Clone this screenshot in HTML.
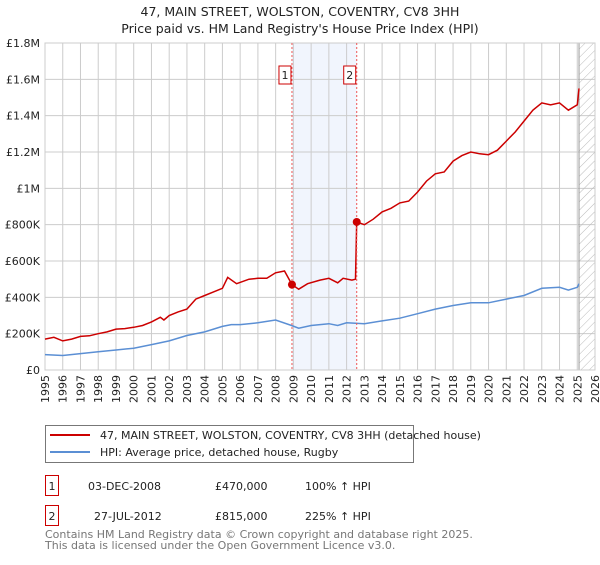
<!DOCTYPE html>
<html><head><meta charset="utf-8"><style>
body{margin:0;background:#fff;font-family:"Liberation Sans","DejaVu Sans",sans-serif;}
svg text{font-family:"DejaVu Sans","Liberation Sans",sans-serif;}
</style></head><body>
<svg width="600" height="560" viewBox="0 0 600 560" xmlns="http://www.w3.org/2000/svg">
<defs><pattern id="hatch" width="6" height="6" patternUnits="userSpaceOnUse" patternTransform="rotate(45)"><line x1="0" y1="0" x2="0" y2="6" stroke="#bbb" stroke-width="1"/></pattern></defs>
<text x="300" y="16" text-anchor="middle" font-size="12.5" fill="#222">47, MAIN STREET, WOLSTON, COVENTRY, CV8 3HH</text>
<text x="300" y="33" text-anchor="middle" font-size="12.5" fill="#222">Price paid vs. HM Land Registry's House Price Index (HPI)</text>
<g id="plot"></g>
<g>
<rect x="45.5" y="425.5" width="368" height="37" fill="#fff" stroke="#777"/>
<line x1="50" y1="435" x2="90" y2="435" stroke="#cc0000" stroke-width="2"/>
<text x="100" y="439" font-size="11" fill="#222">47, MAIN STREET, WOLSTON, COVENTRY, CV8 3HH (detached house)</text>
<line x1="50" y1="452" x2="90" y2="452" stroke="#5b8fd4" stroke-width="2"/>
<text x="100" y="456" font-size="11" fill="#222">HPI: Average price, detached house, Rugby</text>
</g>
<g font-size="11" fill="#222">
<rect x="45.5" y="475.5" width="13" height="20" fill="#fff" stroke="#cc0000"/><text x="52" y="490" text-anchor="middle">1</text>
<text x="88" y="490">03-DEC-2008</text><text x="215" y="490">£470,000</text><text x="305" y="490">100% ↑ HPI</text>
<rect x="45.5" y="505.5" width="13" height="20" fill="#fff" stroke="#cc0000"/><text x="52" y="520" text-anchor="middle">2</text>
<text x="94" y="520">27-JUL-2012</text><text x="215" y="520">£815,000</text><text x="305" y="520">225% ↑ HPI</text>
</g>
<text x="45" y="538" font-size="11" fill="#777">Contains HM Land Registry data © Crown copyright and database right 2025.</text>
<text x="45" y="549" font-size="11" fill="#777">This data is licensed under the Open Government Licence v3.0.</text>
</svg>
<script>
const redYears=[1995,1995.5,1996,1996.5,1997,1997.5,1998,1998.5,1999,1999.5,2000,2000.5,2001,2001.5,2001.7,2002,2002.5,2003,2003.5,2004,2004.5,2005,2005.3,2005.8,2006.5,2007,2007.5,2008,2008.5,2008.92,2009.3,2009.8,2010.5,2011,2011.5,2011.8,2012.3,2012.5,2012.57,2013,2013.5,2014,2014.5,2015,2015.5,2016,2016.5,2017,2017.5,2018,2018.5,2019,2019.5,2020,2020.5,2021,2021.5,2022,2022.5,2023,2023.5,2024,2024.5,2025,2025.1];
const redValues=[170,180,160,170,185,188,200,210,225,228,235,245,265,290,275,300,320,335,390,410,430,450,510,475,500,505,505,535,545,470,445,475,495,505,480,505,495,500,815,800,830,870,890,920,930,980,1040,1080,1090,1150,1180,1200,1190,1185,1210,1260,1310,1370,1430,1470,1460,1470,1430,1460,1550];
const hpiYears=[1995,1996,1997,1998,1999,2000,2001,2002,2003,2004,2005,2005.5,2006,2007,2008,2008.9,2009.3,2010,2011,2011.5,2012,2013,2014,2015,2016,2017,2018,2019,2020,2021,2022,2023,2024,2024.5,2025,2025.1];
const hpiValues=[85,80,90,100,110,120,140,160,190,210,240,250,250,260,275,245,230,245,255,245,260,255,270,285,310,335,355,370,370,390,410,450,455,440,455,475];
const yTicks=[0,200,400,600,800,1000,1200,1400,1600,1800];
const yTickLabels=["£0","£200K","£400K","£600K","£800K","£1M","£1.2M","£1.4M","£1.6M","£1.8M"];
const saleYears=[2008.92,2012.57];
const saleValues=[470,815];
const saleLabels=["1","2"];
const X0=45,X1=595,Y0=370,Y1=43;
const x=y=>X0+(y-1995)*(X1-X0)/31;
const yv=v=>Y0-v*(Y0-Y1)/1800;
const NS="http://www.w3.org/2000/svg";
const g=document.getElementById('plot');
function mk(t,a){const e=document.createElementNS(NS,t);for(const k in a)e.setAttribute(k,a[k]);g.appendChild(e);return e;}
let e=mk('rect',{x:x(saleYears[0]),y:Y1,width:x(saleYears[1])-x(saleYears[0]),height:Y0-Y1,fill:'#eef3fc',opacity:0.8});


for(let yr=1995;yr<=2026;yr++){e=mk('line',{x1:x(yr),x2:x(yr),y1:Y1,y2:Y0,stroke:'#ccc'});


const t=mk('text',{x:0,y:0,'font-size':11,fill:'#222','text-anchor':'end',transform:`translate(${x(yr)+4},${Y0+5}) rotate(-90)`});t.textContent=yr;

}
yTicks.forEach((v,i)=>{e=mk('line',{x1:X0,x2:X1,y1:yv(v),y2:yv(v),stroke:'#ccc'});


const t=mk('text',{x:X0-5,y:yv(v)+4,'font-size':11,fill:'#222','text-anchor':'end'});t.textContent=yTickLabels[i];

});
e=mk('rect',{x:x(2025.1),y:Y1,width:X1-x(2025.1),height:Y0-Y1,fill:'url(#hatch)',stroke:'#999'});


e=mk('rect',{x:X0,y:Y1,width:X1-X0,height:Y0-Y1,fill:'none',stroke:'#ccc'});


const pts=(ys,vs)=>ys.map((a,i)=>x(a).toFixed(1)+','+yv(vs[i]).toFixed(1)).join(' ');
e=mk('polyline',{points:pts(hpiYears,hpiValues),fill:'none',stroke:'#5b8fd4','stroke-width':1.5});


e=mk('polyline',{points:pts(redYears,redValues),fill:'none',stroke:'#cc0000','stroke-width':1.5});


saleYears.forEach((s,i)=>{e=mk('line',{x1:x(s),x2:x(s),y1:Y1,y2:Y0,stroke:'#e55','stroke-dasharray':'2,2'});


e=mk('circle',{cx:x(s),cy:yv(saleValues[i]),r:4,fill:'#cc0000'});


e=mk('rect',{x:x(s)-13,y:66,width:12,height:18,fill:'#fff',stroke:'#cc0000'});


const t=mk('text',{x:x(s)-7,y:79,'font-size':11,fill:'#222','text-anchor':'middle'});t.textContent=saleLabels[i];

});
</script>
</body></html>
